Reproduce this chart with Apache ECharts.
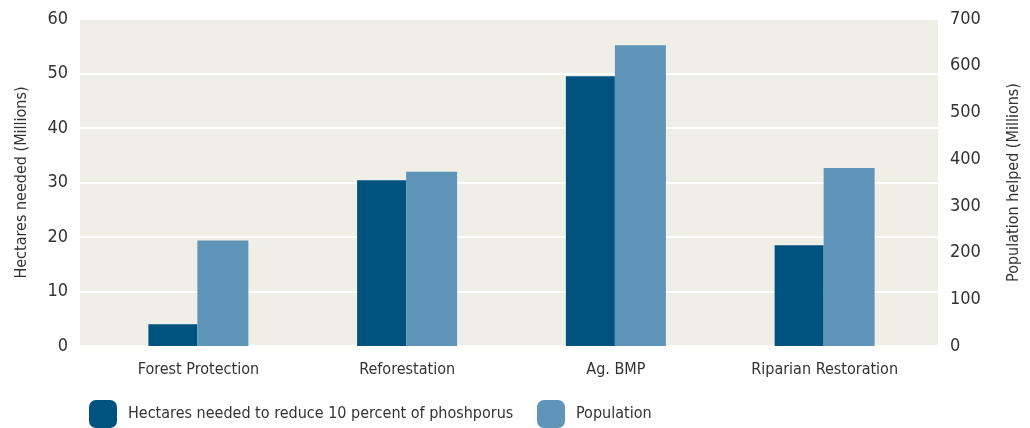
<!DOCTYPE html>
<html><head><meta charset="utf-8">
<script src="https://cdn.jsdelivr.net/npm/echarts@6/dist/echarts.min.js"></script>
<style>html,body{margin:0;padding:0;background:#fff}#c{width:1030px;height:428px}</style>
</head><body><div id="c"></div>
<script>
const categories = ["Forest Protection", "Reforestation", "Ag. BMP", "Riparian Restoration"];
const hectares = [4.0, 30.4, 49.5, 18.5];
const population = [226, 373, 644, 381];
const leftTicks = [0, 60, 10];
const rightTicks = [0, 700, 100];

const FONT = '"DejaVu Sans Condensed", "Liberation Sans Narrow", sans-serif';
const TXT = '#333333';
const chart = echarts.init(document.getElementById('c'));
chart.setOption({
  animation: false,
  textStyle: {fontFamily: FONT},
  grid: [
    {left: 80, right: 87, top: 19, bottom: 82, show: true, backgroundColor: '#efefe7', borderWidth: 0},
    {left: 94, right: 101, top: 19, bottom: 82}
  ],
  legend: [
    {data: ['Hectares needed to reduce 10 percent of phoshporus'], left: 84, top: 395, itemWidth: 28, itemHeight: 28, icon: 'roundRect',
     textStyle: {fontFamily: FONT, fontSize: 16, color: TXT, padding: [0, 0, 0, 6]}},
    {data: ['Population'], left: 532, top: 395, itemWidth: 28, itemHeight: 28, icon: 'roundRect',
     textStyle: {fontFamily: FONT, fontSize: 16, color: TXT, padding: [0, 0, 0, 6]}}
  ],
  xAxis: [
    {type: 'category', gridIndex: 0, data: categories, show: false},
    {type: 'category', gridIndex: 1, data: categories,
     axisLine: {show: false}, axisTick: {show: false},
     axisLabel: {interval: 0, fontFamily: FONT, fontSize: 16, color: TXT, margin: 16}}
  ],
  yAxis: [
    {type: 'value', gridIndex: 0, min: leftTicks[0], max: leftTicks[1], interval: leftTicks[2], position: 'left',
     name: 'Hectares needed (Millions)', nameLocation: 'middle', nameGap: 50, nameRotate: 90,
     nameTextStyle: {fontFamily: FONT, fontSize: 16, color: TXT},
     axisLine: {show: false}, axisTick: {show: false},
     axisLabel: {fontFamily: FONT, fontSize: 18, color: TXT, margin: 12},
     splitLine: {show: true, lineStyle: {color: '#ffffff', width: 2}}},
    {type: 'value', gridIndex: 0, min: rightTicks[0], max: rightTicks[1], interval: rightTicks[2], position: 'right',
     name: 'Population helped (Millions)', nameLocation: 'middle', nameGap: 68, nameRotate: 90,
     nameTextStyle: {fontFamily: FONT, fontSize: 16, color: TXT},
     axisLine: {show: false}, axisTick: {show: false},
     axisLabel: {fontFamily: FONT, fontSize: 18, color: TXT, margin: 12},
     splitLine: {show: false}},
    {type: 'value', gridIndex: 1, min: leftTicks[0], max: leftTicks[1], show: false, splitLine: {show: false}},
    {type: 'value', gridIndex: 1, min: rightTicks[0], max: rightTicks[1], show: false, splitLine: {show: false}}
  ],
  series: [
    {name: 'Hectares needed to reduce 10 percent of phoshporus', type: 'bar', xAxisIndex: 1, yAxisIndex: 2,
     data: hectares, barWidth: 49, barGap: '0%', itemStyle: {color: '#00527f'}},
    {name: 'Population', type: 'bar', xAxisIndex: 1, yAxisIndex: 3,
     data: population, barWidth: 51, barGap: '0%', itemStyle: {color: '#5e95b8'}}
  ]
});
</script></body></html>
